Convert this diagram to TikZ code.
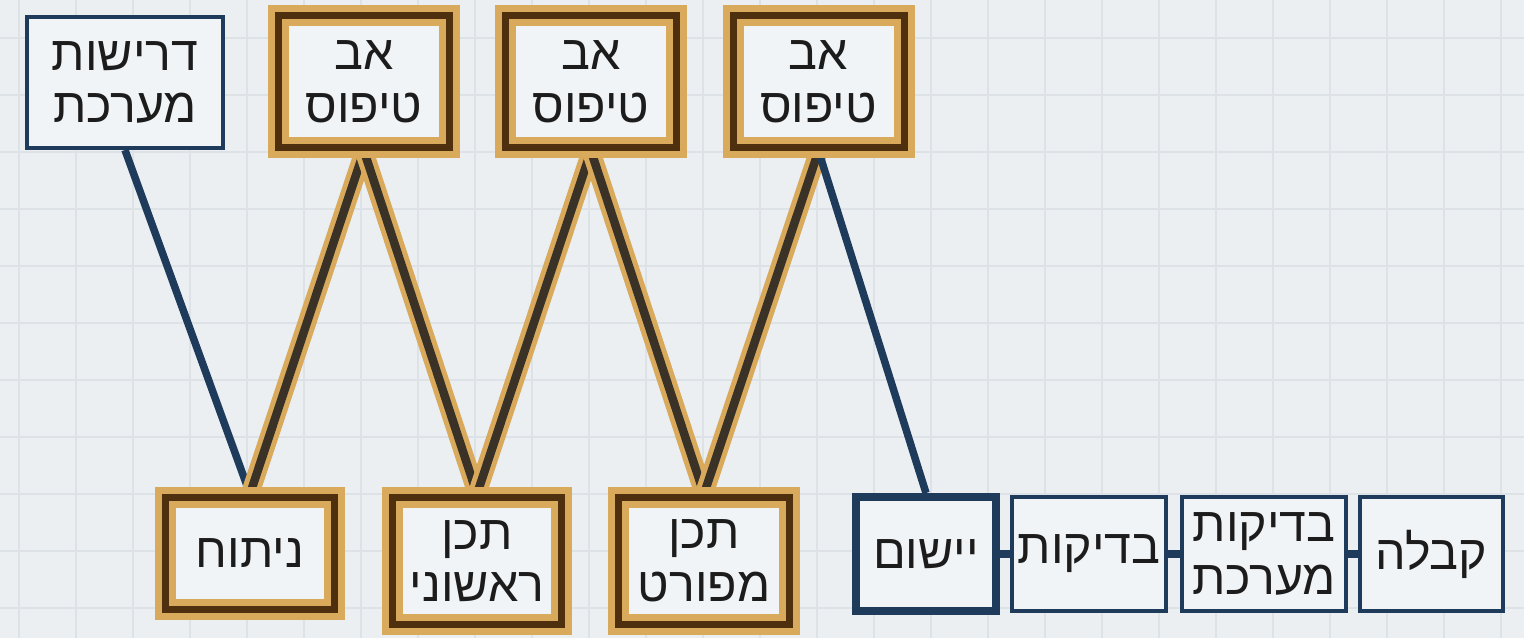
\documentclass[tikz,border=0pt]{standalone}
\usepackage{fontspec}
\newfontfamily\hebfont[Script=Hebrew]{Liberation Sans}
\TeXXeTstate=1
\newcommand{\heb}[1]{\beginR#1\endR}

\newlength{\du}
\setlength{\du}{0.02cm}

\definecolor{paper}{HTML}{EBEFF1}
\definecolor{gridline}{HTML}{DCE2E6}
\definecolor{navy}{HTML}{1F3B5C}
\definecolor{boxfill}{HTML}{F1F4F6}
\definecolor{gold}{HTML}{D9A95C}
\definecolor{rim}{HTML}{4E300E}
\definecolor{stroke}{HTML}{3A3227}
\definecolor{ink}{HTML}{1C1C1C}

\pgfdeclarelayer{background}
\pgfsetlayers{background,main}

\tikzset{
  stagebox/.style={draw=navy, line width=4\du, fill=boxfill, inner sep=0pt,
    align=center, text=ink, font=\hebfont\fontsize{27.5pt}{30pt}\selectfont},
  protobox/.style={stagebox, draw=gold, double=rim, line width=7\du,
    double distance=7\du},
  navylink/.style={draw=navy, line width=7.5\du},
  protolink/.style={draw=gold, double=stroke, line width=5\du,
    double distance=8.5\du}
}

\begin{document}
\begin{tikzpicture}
\pgftransformxscale{1.000000}
\pgftransformyscale{-1.000000}
\useasboundingbox (0\du,0\du) rectangle (1524\du,638\du);
% paper and grid
\begin{pgfonlayer}{background}
\fill[paper] (0\du,0\du) rectangle (1524\du,638\du);
\foreach \x in {0,...,26}
  \draw[gridline, line width=2\du] ({(19+57*\x)*\du},0\du) -- ({(19+57*\x)*\du},638\du);
\foreach \y in {0,...,10}
  \draw[gridline, line width=2\du] (0\du,{(38+57*\y)*\du}) -- (1524\du,{(38+57*\y)*\du});
\end{pgfonlayer}

% top row
\node[stagebox, minimum width=196\du, minimum height=131\du] (req) at (125\du,82.5\du){\heb{דרישות}\\\heb{מערכת}};
\node[protobox, minimum width=171\du, minimum height=132\du] (protoA) at (364\du,81.5\du){\heb{אב}\\\heb{טיפוס}};
\node[protobox, minimum width=171\du, minimum height=132\du] (protoB) at (591\du,81.5\du){\heb{אב}\\\heb{טיפוס}};
\node[protobox, minimum width=171\du, minimum height=132\du] (protoC) at (818.5\du,81.5\du){\heb{אב}\\\heb{טיפוס}};

% bottom row
\node[protobox, minimum width=169\du, minimum height=112\du] (analysis) at (250\du,553.5\du){\heb{ניתוח}};
\node[protobox, minimum width=169\du, minimum height=127\du] (prelim) at (477\du,561\du){\heb{תכן}\\\heb{ראשוני}};
\node[protobox, minimum width=171\du, minimum height=127\du] (detail) at (704\du,561\du){\heb{תכן}\\\heb{מפורט}};
\node[stagebox, line width=8\du, minimum width=140\du, minimum height=114\du] (impl) at (926\du,554\du){\heb{יישום}};
\node[stagebox, minimum width=154\du, minimum height=114\du] (tests) at (1089\du,554\du){\heb{בדיקות}};
\node[stagebox, minimum width=164\du, minimum height=114\du] (systests) at (1264\du,554\du){\heb{בדיקות}\\\heb{מערכת}};
\node[stagebox, minimum width=143\du, minimum height=114\du] (accept) at (1431.5\du,554\du){\heb{קבלה}};

% connectors, kept behind the boxes
\begin{pgfonlayer}{background}
\draw[navylink] (req.south) -- (analysis.north);
\draw[protolink] (analysis.north) -- (protoA.south);
\draw[protolink] (protoA.south) -- (prelim.north);
\draw[protolink] (prelim.north) -- (protoB.south);
\draw[protolink] (protoB.south) -- (detail.north);
\draw[protolink] (detail.north) -- (protoC.south);
\draw[navylink] (protoC.south) -- (impl.north);
\draw[navylink, line width=8\du] (impl.east) -- (tests.west);
\draw[navylink, line width=8\du] (tests.east) -- (systests.west);
\draw[navylink, line width=8\du] (systests.east) -- (accept.west);
\end{pgfonlayer}
\end{tikzpicture}
\end{document}
